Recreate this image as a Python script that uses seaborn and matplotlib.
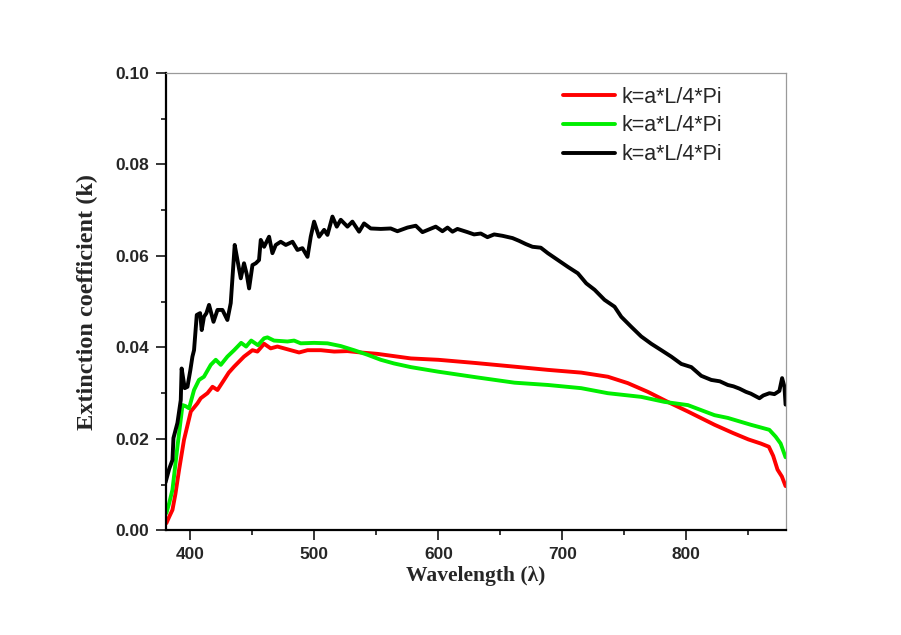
import numpy as np
import pandas as pd
import seaborn as sns
import matplotlib.pyplot as plt
from matplotlib.ticker import MultipleLocator

# --- data ---
wl_black = [380, 380.5, 383, 385.6, 386.4, 389.6, 392.3, 393, 395.5, 397.7, 400, 401.7, 403,
            405.2, 407.9, 409.2, 411, 413, 415.1, 418.7, 421.9, 425.9, 429.9, 432.6, 435.8,
            438, 440.7, 443.3, 445.5, 447.4, 450.1, 452.8, 455.4, 456.8, 459.5, 463.5, 466.2,
            468.9, 472.9, 477, 482.4, 486.4, 490.4, 494.5, 497.1, 499.8, 503.8, 507.9, 510.6,
            514.6, 518.1, 521.3, 526.7, 530.7, 536.1, 540.1, 545.5, 553.6, 561.6, 567, 575.1,
            581.8, 587.2, 597.9, 603.3, 607.4, 611.4, 615.4, 623.5, 628.8, 634.2, 639.6, 645,
            651.7, 659.8, 665.1, 670.5, 675.9, 682.6, 688.3, 696.4, 704.5, 712.5, 719.3, 726,
            734, 742.1, 747.5, 755.6, 763.6, 771.7, 779.8, 787.8, 795.9, 804, 812, 820.1, 827,
            833.4, 838, 842.8, 848, 852, 858.9, 862, 867, 871, 875, 877.2, 879.1, 880]
k_black = [0.0105, 0.011, 0.0135, 0.0154, 0.0202, 0.0235, 0.0285, 0.0354, 0.0311, 0.0314,
           0.035, 0.038, 0.0394, 0.0471, 0.0475, 0.0438, 0.0467, 0.0475, 0.0493, 0.0456,
           0.0482, 0.0482, 0.046, 0.0497, 0.0624, 0.0591, 0.0551, 0.0584, 0.056, 0.0529,
           0.058, 0.0584, 0.0591, 0.0635, 0.062, 0.0642, 0.0606, 0.0624, 0.0631, 0.0624,
           0.0631, 0.0613, 0.0617, 0.0598, 0.0642, 0.0675, 0.0642, 0.0657, 0.0646, 0.0686,
           0.0664, 0.0679, 0.0664, 0.0675, 0.0653, 0.0671, 0.066, 0.0659, 0.066, 0.0654,
           0.0662, 0.0666, 0.0652, 0.0664, 0.0654, 0.0662, 0.0653, 0.0659, 0.0652, 0.0647,
           0.0649, 0.0641, 0.0647, 0.0644, 0.0639, 0.0633, 0.0626, 0.062, 0.0618, 0.0606,
           0.0591, 0.0576, 0.0562, 0.054, 0.0526, 0.0504, 0.0489, 0.0467, 0.0445, 0.0424,
           0.0408, 0.0394, 0.038, 0.0364, 0.0357, 0.0338, 0.0329, 0.0326, 0.0318, 0.0315,
           0.031, 0.0303, 0.0299, 0.0289, 0.0295, 0.03, 0.0298, 0.0305, 0.0333, 0.0314, 0.0275]

wl_red = [380.7, 383, 385.6, 388, 390.9, 394.9, 400.4, 405.8, 408.4, 413.8, 417.9, 421.9,
          427.2, 431, 435.3, 443.3, 450.1, 454.1, 459.5, 464.8, 470.2, 478.3, 487.7, 494.5,
          505.2, 516, 526.7, 537.4, 550.8, 564.3, 577.8, 600, 630, 661.4, 688.3, 715.2,
          736.7, 752.8, 768.9, 785, 801.2, 822.7, 837.6, 850, 860, 866.5, 870, 873.5, 877, 880]
k_red = [0.0016, 0.003, 0.0045, 0.008, 0.0132, 0.0198, 0.026, 0.0278, 0.0289, 0.03, 0.0314,
         0.0307, 0.0329, 0.0345, 0.0358, 0.038, 0.0394, 0.0391, 0.0408, 0.0398, 0.0402,
         0.0396, 0.0389, 0.0394, 0.0394, 0.0391, 0.0392, 0.0389, 0.0386, 0.0381, 0.0376,
         0.0373, 0.0366, 0.0358, 0.0351, 0.0345, 0.0336, 0.0322, 0.0303, 0.0281, 0.026,
         0.0231, 0.0213, 0.0199, 0.019, 0.0183, 0.0163, 0.0133, 0.0118, 0.0097]

wl_green = [380.7, 383, 385.6, 389.6, 393.7, 396, 399, 403, 407, 411, 416.5, 420.5, 424.6,
            429.9, 435.3, 441, 445, 449.1, 454.5, 459.5, 462.2, 467.5, 478.3, 483.7, 489,
            499.8, 510.6, 521.3, 532, 542.9, 553.6, 564.3, 577.8, 600, 630, 661.4, 688.3,
            715.2, 736.7, 763.6, 782.4, 801.2, 810, 822.7, 833.4, 852, 866.9, 872, 876, 880]
k_green = [0.0038, 0.006, 0.0089, 0.0183, 0.0274, 0.0272, 0.0267, 0.0307, 0.0329, 0.0336,
           0.0362, 0.0373, 0.0362, 0.038, 0.0394, 0.041, 0.0402, 0.0415, 0.0405, 0.042,
           0.0422, 0.0415, 0.0413, 0.0415, 0.0409, 0.041, 0.0409, 0.0403, 0.0394, 0.0384,
           0.0373, 0.0365, 0.0357, 0.0347, 0.0335, 0.0323, 0.0318, 0.0311, 0.03, 0.0292,
           0.0281, 0.0274, 0.0265, 0.0252, 0.0246, 0.0231, 0.022, 0.0205, 0.019, 0.016]

legend_label = "k=a*L/4*Pi"

sns.set_style("ticks")
plt.rcParams['font.family'] = ['Liberation Sans', 'DejaVu Sans']

fig = plt.figure(figsize=(9.01, 6.35), dpi=100)
ax = fig.add_axes([0.1837, 0.1646, 0.6882, 0.7206])

for wl, k, col in [(wl_red, k_red, '#ff0000'),
                   (wl_green, k_green, '#00ee00'),
                   (wl_black, k_black, '#000000')]:
    df = pd.DataFrame({'wl': wl, 'k': k})
    sns.lineplot(data=df, x='wl', y='k', ax=ax, color=col, lw=2.8,
                 label=legend_label, sort=False, estimator=None)

ax.set_xlim(380, 880)
ax.set_ylim(0, 0.10)
ax.xaxis.set_major_locator(MultipleLocator(100))
ax.xaxis.set_minor_locator(MultipleLocator(50))
ax.yaxis.set_major_locator(MultipleLocator(0.02))
ax.yaxis.set_minor_locator(MultipleLocator(0.01))
ax.set_yticklabels([f"{v:.2f}" for v in ax.get_yticks()])

ax.tick_params(which='major', length=7, width=1.3, direction='out', pad=5,
               labelsize=12.5)
ax.tick_params(which='minor', length=3.8, width=1.3, direction='out')
for lab in ax.get_xticklabels() + ax.get_yticklabels():
    lab.set_fontweight('bold')

for s in ['left', 'bottom']:
    ax.spines[s].set_linewidth(1.6)
    ax.spines[s].set_color('black')
for s in ['top', 'right']:
    ax.spines[s].set_linewidth(0.9)
    ax.spines[s].set_color('#9a9a9a')

ax.set_xlabel("Wavelength (λ)", family=['Liberation Serif', 'DejaVu Serif'],
              fontweight='bold', fontsize=15.5, labelpad=3)
ax.set_ylabel("Extinction coefficient (k)", family=['Liberation Serif', 'DejaVu Serif'],
              fontweight='bold', fontsize=17.5, labelpad=12)

ax.legend(loc='upper left', bbox_to_anchor=(0.641, 0.970), frameon=False,
          fontsize=15.5, handlelength=2.4, handletextpad=0.3, labelspacing=0.36,
          borderaxespad=0, borderpad=0)

fig.savefig("out.png", dpi=100, facecolor='white')
